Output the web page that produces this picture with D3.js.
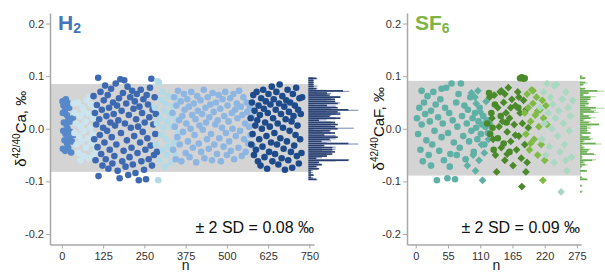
<!DOCTYPE html>
<meta charset="utf-8">
<script src="https://d3js.org/d3.v7.min.js"></script>
<style>
  body { margin: 0; background: #fff; }
  text { font-family: "Liberation Sans", Arial, Helvetica, sans-serif; }
</style>
<div id="my_dataviz"></div>
<script>

// ---- data: [n, delta value in permil] ----
// H2 panel, one array per measurement session
var h2A = [[2,0.052],[5,0.044],[12,0.056],[18,0.049],[3,0.030],[9,0.034],[15,0.026],[22,0.040],[6,0.012],[14,0.008],[20,0.018],[27,0.014],[4,-0.004],[11,-0.010],[17,0.001],[25,-0.006],[8,-0.022],[16,-0.028],[23,-0.018],[30,-0.024],[3,-0.038],[10,-0.042],[19,-0.036],[28,-0.045],[33,0.020],[36,-0.012]];
var h2B = [[35,0.048],[48,0.050],[62,0.041],[75,0.054],[88,0.046],[100,0.037],[40,0.030],[55,0.024],[68,0.032],[82,0.028],[95,0.020],[42,0.010],[58,0.004],[71,0.014],[86,0.002],[104,0.008],[38,-0.008],[52,-0.014],[66,-0.004],[79,-0.018],[93,-0.010],[45,-0.030],[60,-0.024],[73,-0.036],[90,-0.028],[102,-0.040],[50,-0.046],[65,-0.052],[80,-0.056],[96,-0.050],[56,-0.060],[84,0.060]];
var h2C = [[96,0.062],[98,-0.020],[100,0.030],[102,-0.060],[104,0.008],[106,0.045],[108,-0.035],[110,0.097],[111,-0.090],[113,0.018],[115,-0.012],[117,0.070],[119,-0.048],[121,0.036],[123,-0.070],[125,0.002],[127,0.054],[129,-0.026],[131,0.082],[133,-0.058],[135,0.024],[137,-0.004],[139,0.064],[141,-0.076],[143,0.040],[145,-0.040],[147,0.012],[149,0.076],[151,-0.016],[153,-0.066],[155,0.050],[157,0.028],[159,-0.052],[161,0.006],[163,0.086],[165,-0.030],[167,0.044],[169,-0.080],[171,0.016],[173,0.058],[175,-0.094],[177,0.094],[179,-0.008],[181,0.034],[183,-0.062],[185,0.068],[187,-0.042],[189,0.092],[191,0.010],[193,-0.072],[195,0.048],[197,-0.022],[199,0.080],[201,-0.088],[203,0.026],[205,-0.054],[207,0.060],[209,0.002],[211,-0.036],[213,0.072],[215,-0.068],[217,0.038],[219,-0.014],[221,0.052],[223,-0.084],[225,0.018],[227,0.066],[229,-0.046],[231,0.004],[233,-0.098],[235,0.042],[237,-0.026],[239,0.074],[241,-0.062],[243,0.030],[245,-0.006],[247,0.056],[249,-0.078],[251,0.012],[253,-0.040],[255,-0.096],[257,0.064],[259,-0.018],[261,0.046],[263,-0.058],[265,0.022],[267,0.078],[269,-0.032],[271,0.095],[273,-0.070],[275,0.036],[277,0.008],[279,-0.050],[281,0.060],[283,-0.010],[285,0.028],[288,-0.044]];
var h2D = [[282,0.040],[285,-0.030],[288,0.010],[290,0.090],[292,-0.098],[294,0.088],[296,-0.060],[298,0.020],[300,0.055],[302,-0.012],[304,0.070],[306,-0.040],[308,0.002],[310,0.034],[312,-0.072],[314,0.048],[316,-0.020],[318,-0.050],[320,0.014],[322,0.062],[324,-0.034],[327,0.026],[330,-0.064],[333,0.004],[336,0.042],[339,-0.026],[342,-0.048],[345,0.018],[348,0.058],[352,-0.008]];
var h2E = [[335,0.030],[337,-0.040],[340,0.060],[342,0.004],[345,-0.058],[347,0.044],[350,-0.016],[352,0.072],[355,0.016],[357,-0.030],[360,0.052],[362,-0.062],[365,0.024],[367,-0.006],[370,0.066],[372,0.036],[375,-0.046],[377,0.010],[380,0.056],[382,-0.024],[385,0.042],[387,-0.054],[390,0.000],[392,0.070],[395,0.026],[397,-0.036],[400,0.048],[402,-0.012],[405,0.018],[407,-0.064],[410,0.062],[412,0.034],[415,-0.028],[417,0.006],[420,0.054],[422,-0.044],[425,0.028],[427,-0.002],[430,0.074],[432,-0.056],[435,0.040],[437,0.012],[440,-0.020],[442,0.060],[445,-0.038],[447,0.022],[450,0.046],[452,-0.010],[455,-0.060],[457,0.068],[460,0.032],[462,-0.030],[465,0.008],[467,0.050],[470,-0.048],[472,0.016],[475,0.064],[477,-0.018],[480,0.038],[482,-0.062],[485,0.002],[487,0.056],[490,-0.034],[492,0.024],[495,0.070],[497,-0.008],[500,-0.050],[502,0.044],[505,0.014],[507,-0.024],[510,0.058],[512,-0.042],[515,0.030],[517,0.000],[520,0.066],[522,-0.058],[525,0.036],[527,-0.014],[530,0.048],[532,0.020],[535,-0.036],[537,0.072],[540,-0.004],[542,0.042],[545,-0.052],[547,0.026],[550,0.060],[552,-0.020],[555,0.010],[557,-0.044],[560,0.050],[562,0.032],[565,-0.028],[567,0.004],[570,0.040],[572,-0.012],[575,0.022],[578,-0.032]];
var h2F = [[572,0.020],[574,-0.030],[576,0.050],[578,-0.010],[580,0.064],[582,-0.050],[584,0.034],[586,0.006],[588,-0.040],[590,0.070],[592,0.016],[594,-0.062],[596,0.044],[598,-0.020],[600,0.026],[602,-0.070],[604,0.058],[606,0.000],[608,-0.034],[610,0.074],[612,0.038],[614,-0.054],[616,0.012],[618,0.052],[620,-0.014],[622,-0.076],[624,0.030],[626,0.066],[628,-0.044],[630,0.004],[632,0.046],[634,-0.026],[636,0.080],[638,-0.062],[640,0.020],[642,0.056],[644,-0.008],[646,-0.048],[648,0.036],[650,0.070],[652,-0.030],[654,0.010],[656,-0.068],[658,0.048],[660,0.084],[662,-0.018],[664,0.028],[666,-0.056],[668,0.062],[670,0.002],[672,-0.038],[674,0.042],[676,-0.078],[678,0.018],[680,0.054],[682,-0.024],[684,0.074],[686,-0.060],[688,0.032],[690,-0.004],[692,0.050],[694,-0.044],[696,0.014],[698,-0.074],[700,0.066],[702,0.024],[704,-0.032],[706,0.044],[708,-0.012],[710,0.078],[712,-0.052],[714,0.006],[716,0.036],[718,-0.066],[720,0.058],[722,-0.020],[724,0.028],[726,-0.046],[728,0.060]];

// SF6 panel
var sfTealDots = [[2,0.020],[4,-0.010],[6,0.040],[8,-0.040],[10,0.008],[12,-0.062],[14,0.050],[16,0.028],[18,-0.022],[20,0.062],[22,-0.050],[24,0.014],[26,0.034],[28,-0.030],[30,0.070],[32,-0.004],[34,0.046],[36,-0.098],[38,0.022],[40,-0.042],[42,0.056],[44,-0.016],[46,0.010],[48,-0.060],[50,0.040],[52,0.078],[54,-0.094],[55,-0.008],[57,0.030],[59,-0.048],[61,0.086],[63,0.016],[65,-0.026],[67,-0.096],[69,0.050],[71,0.004],[73,0.066],[75,-0.036],[77,0.086],[79,0.024],[81,-0.014],[83,0.044],[85,-0.058],[87,0.010],[89,0.036],[91,-0.024],[93,0.060],[95,-0.004],[97,0.020],[99,-0.044],[101,0.030],[103,0.002],[105,-0.020],[107,0.014],[109,0.040],[111,-0.010],[113,0.008],[115,0.024],[117,-0.030],[119,0.004],[121,0.016],[123,-0.008],[10,0.072],[26,-0.070],[44,0.076],[58,-0.072],[70,-0.050]];
var sfTealDiam = [[88,-0.070],[95,0.068],[101,0.060],[103,0.048],[106,0.072],[108,-0.060],[102,-0.080],[114,-0.098],[110,0.032],[117,-0.046],[120,0.052],[124,-0.020],[126,0.010],[112,-0.030],[98,-0.050]];
var sfDarkDots = [[122,0.010],[125,0.068],[127,-0.010],[129,0.030],[131,0.002],[133,-0.040],[135,0.046],[140,-0.018],[145,0.024],[150,-0.028],[178,0.096],[181,0.098],[184,0.095],[186,0.096],[175,0.040],[160,-0.044],[155,0.012]];
var sfDarkDiam = [[126,0.060],[130,0.020],[132,-0.020],[134,0.064],[136,-0.050],[138,-0.082],[140,0.040],[142,0.004],[144,0.070],[146,-0.036],[148,0.014],[150,0.050],[152,-0.060],[154,0.030],[156,-0.006],[158,0.078],[160,0.020],[162,-0.024],[164,0.056],[166,-0.070],[168,0.008],[170,0.044],[172,-0.040],[174,0.070],[176,-0.014],[178,0.030],[180,-0.056],[181,-0.110],[182,0.010],[184,0.054],[186,-0.030],[188,0.036],[190,-0.064],[192,0.002],[146,0.072],[152,0.066],[162,0.040],[170,-0.012],[156,-0.048],[176,0.060],[188,-0.082]];
var sfLimeDiam = [[186,0.030],[188,-0.010],[190,0.066],[192,0.040],[194,-0.040],[196,0.014],[198,0.074],[200,0.048],[202,-0.020],[204,0.026],[206,0.060],[208,-0.050],[210,0.004],[212,0.036],[214,-0.030],[216,0.054],[217,-0.098],[218,0.020],[220,-0.060],[222,0.044],[224,0.008],[200,0.072],[208,0.034],[196,-0.028]];
var sfPaleDiam = [[212,0.040],[215,-0.020],[218,0.070],[220,0.010],[222,-0.050],[224,0.086],[226,0.030],[228,-0.034],[230,0.060],[232,0.000],[234,0.046],[236,-0.064],[238,0.020],[240,0.084],[242,-0.014],[244,0.034],[246,-0.044],[248,-0.120],[250,0.056],[252,0.010],[254,-0.030],[256,0.070],[258,-0.080],[260,0.040],[262,-0.004],[264,0.024],[266,-0.054],[268,0.054],[236,0.082],[256,-0.060]];

// axis ticks, bands (2 SD) and labels
var yTicks = [-0.2, -0.1, 0, 0.1, 0.2];
var h2Ticks = [0, 125, 250, 375, 500, 625, 750];
var sfTicks = [0, 55, 110, 165, 220, 275];
var h2Band = [-0.082, 0.085];
var sfBand = [-0.089, 0.091];
var h2Label = "± 2 SD = 0.08 ‰";
var sfLabel = "± 2 SD = 0.09 ‰";

var W = 605, H = 273;
var svg = d3.select("#my_dataviz").append("svg")
  .attr("width", W).attr("height", H);

var y = d3.scaleLinear().domain([-0.22, 0.22]).range([244.5, 13]);
var diamond = d3.symbol().type(d3.symbolSquare).size(30);

function drawPanel(p) {
  var x = d3.scaleLinear().domain(p.xlim).range(p.xrange);
  var g = svg.append("g");

  // grey band
  g.append("rect")
    .attr("x", x(p.xlim[0]))
    .attr("width", x(p.bandEnd) - x(p.xlim[0]))
    .attr("y", y(p.band[1]))
    .attr("height", y(p.band[0]) - y(p.band[1]))
    .attr("fill", "#d4d4d4");

  // points
  p.groups.forEach(function(gr) {
    if (gr.shape == "diamond") {
      g.selectAll(null).data(gr.data).enter().append("path")
        .attr("d", diamond)
        .attr("transform", function(d) { return "translate(" + x(d[0]) + "," + y(d[1]) + ") rotate(45)"; })
        .attr("fill", gr.color);
    } else {
      g.selectAll(null).data(gr.data).enter().append("circle")
        .attr("cx", function(d) { return x(d[0]); })
        .attr("cy", function(d) { return y(d[1]); })
        .attr("r", 3.3)
        .attr("fill", gr.color);
    }
  });

  // marginal histogram
  var all = [];
  p.groups.forEach(function(gr) { gr.data.forEach(function(d) { all.push(d[1]); }); });
  var fine = d3.bin().domain([-0.13, 0.11]).thresholds(d3.range(-0.13, 0.11, 0.002))(all);
  var coarse = d3.bin().domain([-0.13, 0.11]).thresholds(d3.range(-0.13, 0.11, 0.004))(all);
  var hx0 = x(p.bandEnd) - 1;
  var hLight = d3.scaleLinear().domain([0, d3.max(fine, function(b) { return b.length; })]).range([0, p.histLen]);
  var hDark = d3.scaleLinear().domain([0, d3.max(coarse, function(b) { return b.length; })]).range([0, p.histLen * 0.8]);
  g.selectAll(null).data(fine.filter(function(b) { return b.length > 0; })).enter().append("rect")
    .attr("x", hx0)
    .attr("y", function(b) { return y((b.x0 + b.x1) / 2) - 0.6; })
    .attr("height", 1.2)
    .attr("width", function(b) { return hLight(b.length); })
    .attr("fill", p.histLight);
  g.selectAll(null).data(coarse.filter(function(b) { return b.length > 0; })).enter().append("rect")
    .attr("x", hx0)
    .attr("y", function(b) { return y((b.x0 + b.x1) / 2) - 0.8; })
    .attr("height", 1.6)
    .attr("width", function(b) { return hDark(b.length); })
    .attr("fill", p.histDark);

  // axes
  var ya = g.append("g")
    .attr("transform", "translate(" + p.xrange[0] + ",0)")
    .call(d3.axisLeft(y).tickValues(yTicks).tickSize(4).tickSizeOuter(0).tickPadding(2)
      .tickFormat(function(d) { return d === 0 ? "0.0" : d3.format(".1f")(d).replace("−", "-"); }));
  var xa = g.append("g")
    .attr("transform", "translate(0," + y(-0.22) + ")")
    .call(d3.axisBottom(x).tickValues(p.ticks).tickSize(4).tickSizeOuter(0).tickPadding(4));
  [ya, xa].forEach(function(a) {
    a.select(".domain").attr("stroke", "#a8a8a8").attr("stroke-width", 1.5);
    a.selectAll(".tick line").attr("stroke", "#a8a8a8");
    a.selectAll(".tick text").attr("fill", "#333").style("font-size", "11px")
      .style("font-family", "'Liberation Sans', Arial, sans-serif");
  });

  // x label
  g.append("text")
    .attr("x", x((p.ticks[0] + p.ticks[p.ticks.length - 1]) / 2))
    .attr("y", 270)
    .attr("text-anchor", "middle")
    .style("font-size", "14px")
    .attr("fill", "#222")
    .text("n");

  // y label
  var yl = g.append("text")
    .attr("transform", "translate(" + p.ylabX + "," + y(0) + ") rotate(-90)")
    .attr("text-anchor", "middle")
    .style("font-size", "15px")
    .attr("fill", "#111");
  yl.append("tspan").text("δ");
  yl.append("tspan").attr("dy", -6).style("font-size", "10px").text("42/40");
  yl.append("tspan").attr("dy", 6).text(p.species + ", ‰");

  // title
  var t = g.append("text")
    .attr("x", p.xrange[0] + 8)
    .attr("y", 30)
    .attr("fill", p.titleColor)
    .style("font-weight", "bold")
    .style("font-size", "21px");
  t.append("tspan").text(p.title);
  t.append("tspan").attr("dy", 2.5).style("font-size", "14px").text(p.sub);

  // SD annotation
  g.append("text")
    .attr("x", p.sdX)
    .attr("y", 233)
    .attr("text-anchor", "end")
    .style("font-size", "16px")
    .attr("fill", "#111")
    .text(p.sdLabel);
}

drawPanel({
  xlim: [-36, 764], xrange: [50, 314], bandEnd: 750, band: h2Band, ticks: h2Ticks,
  groups: [
    {data: h2A, color: "#5788c9"},
    {data: h2B, color: "#cbe5ef"},
    {data: h2C, color: "#3c69b1"},
    {data: h2D, color: "#b2dbe7"},
    {data: h2E, color: "#8db6e2"},
    {data: h2F, color: "#1e4b8b"}
  ],
  histLen: 50, histDark: "#283f6e", histLight: "#8d9cc0",
  ylabX: 26, species: "Ca", title: "H", sub: "2", titleColor: "#4474ba",
  sdX: 314, sdLabel: h2Label
});

drawPanel({
  xlim: [-15, 282], xrange: [407, 581], bandEnd: 282, band: sfBand, ticks: sfTicks,
  groups: [
    {data: sfTealDots, color: "#5fb0a5"},
    {data: sfTealDiam, color: "#5fb0a5", shape: "diamond"},
    {data: sfDarkDots, color: "#4a8a2b"},
    {data: sfDarkDiam, color: "#4a8a2b", shape: "diamond"},
    {data: sfLimeDiam, color: "#7fba44", shape: "diamond"},
    {data: sfPaleDiam, color: "#a9d8c3", shape: "diamond"}
  ],
  histLen: 24, histDark: "#6aab55", histLight: "#b8dca6",
  ylabX: 384, species: "CaF", title: "SF", sub: "6", titleColor: "#7db443",
  sdX: 580, sdLabel: sfLabel
});

</script>
